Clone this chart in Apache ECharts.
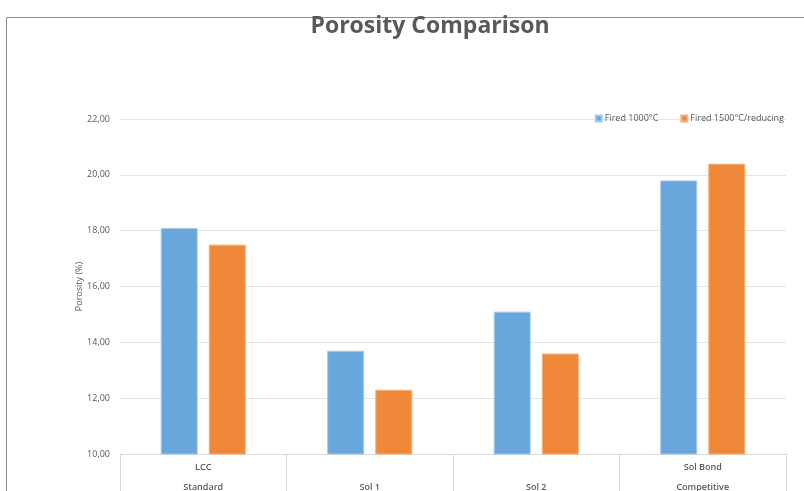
<!DOCTYPE html>
<html>
<head>
<meta charset="utf-8">
<title>Porosity Comparison</title>
<script src="https://cdn.jsdelivr.net/npm/echarts@6/dist/echarts.min.js"></script>
<style>
  html, body { margin: 0; padding: 0; background: #ffffff; }
  #chart { width: 804px; height: 491px; }
</style>
</head>
<body>
<div id="chart"></div>
<script>
// Two-level category labels: upper line (material) and lower line (group)
const groupTop = ['LCC', '', '', 'Sol Bond'];
const groupBottom = ['Standard', 'Sol 1', 'Sol 2', 'Competitive'];

// Porosity (%) per category
const seriesNames = ['Fired 1000°C', 'Fired 1500°C/reducing'];
const fired1000 = [18.1, 13.7, 15.1, 19.8];
const fired1500 = [17.5, 12.3, 13.6, 20.4];

// Value axis range
const yMin = 10;
const yMax = 22;
const yStep = 2;

const categories = groupBottom.map((b, i) => groupTop[i] + '\n' + b);

const font = '"Open Sans", "Noto Sans", sans-serif';
const textGray = '#595959';
const gridGray = '#e3e3e3';

const chart = echarts.init(document.getElementById('chart'), null, { renderer: 'canvas' });

chart.setOption({
  animation: false,
  backgroundColor: '#ffffff',
  textStyle: { fontFamily: font },
  title: {
    text: 'Porosity Comparison',
    left: 425,
    textAlign: 'center',
    top: 10,
    textStyle: {
      fontFamily: font,
      fontSize: 23,
      fontWeight: 'bold',
      color: textGray
    }
  },
  legend: {
    data: seriesNames,
    right: 15,
    top: 109,
    itemWidth: 6,
    itemHeight: 6,
    itemGap: 22,
    icon: 'rect',
    textStyle: { fontFamily: font, fontSize: 9, color: textGray, padding: [0, 0, 0, -2] }
  },
  graphic: [{
    type: 'rect',
    silent: true,
    z: -1,
    shape: { x: 6.5, y: 17.5, width: 820, height: 500 },
    style: { fill: 'none', stroke: '#8c8c8c', lineWidth: 1 }
  }],
  grid: {
    left: 120,
    right: 18,
    top: 119,
    bottom: 37,
    outerBoundsMode: 'none',
    containLabel: false
  },
  xAxis: {
    type: 'category',
    data: categories,
    axisLine: { show: true, lineStyle: { color: '#d9d9d9', width: 1 } },
    axisTick: { show: true, alignWithLabel: false, length: 40, lineStyle: { color: '#d9d9d9' } },
    axisLabel: {
      interval: 0,
      margin: 3,
      lineHeight: 20,
      fontSize: 9,
      color: textGray,
      fontFamily: font,
      fontWeight: 600
    }
  },
  yAxis: {
    type: 'value',
    min: yMin,
    max: yMax,
    interval: yStep,
    name: 'Porosity (%)',
    nameLocation: 'middle',
    nameGap: 36,
    nameMoveOverlap: false,
    nameTextStyle: { fontFamily: font, fontSize: 9, color: textGray },
    axisLine: { show: false },
    axisTick: { show: false },
    axisLabel: {
      margin: 10,
      fontSize: 9,
      color: textGray,
      fontFamily: font,
      formatter: v => v.toFixed(2).replace('.', ',')
    },
    splitLine: { lineStyle: { color: gridGray, width: 1 } }
  },
  series: [
    {
      name: seriesNames[0],
      type: 'bar',
      data: fired1000,
      barWidth: 37,
      barGap: '30%',
      itemStyle: { color: '#68a6db', borderColor: '#a8cbeb', borderWidth: 1 }
    },
    {
      name: seriesNames[1],
      type: 'bar',
      data: fired1500,
      barWidth: 37,
      barGap: '30%',
      itemStyle: { color: '#f0883a', borderColor: '#f5b07c', borderWidth: 1 }
    }
  ]
});
</script>
</body>
</html>
